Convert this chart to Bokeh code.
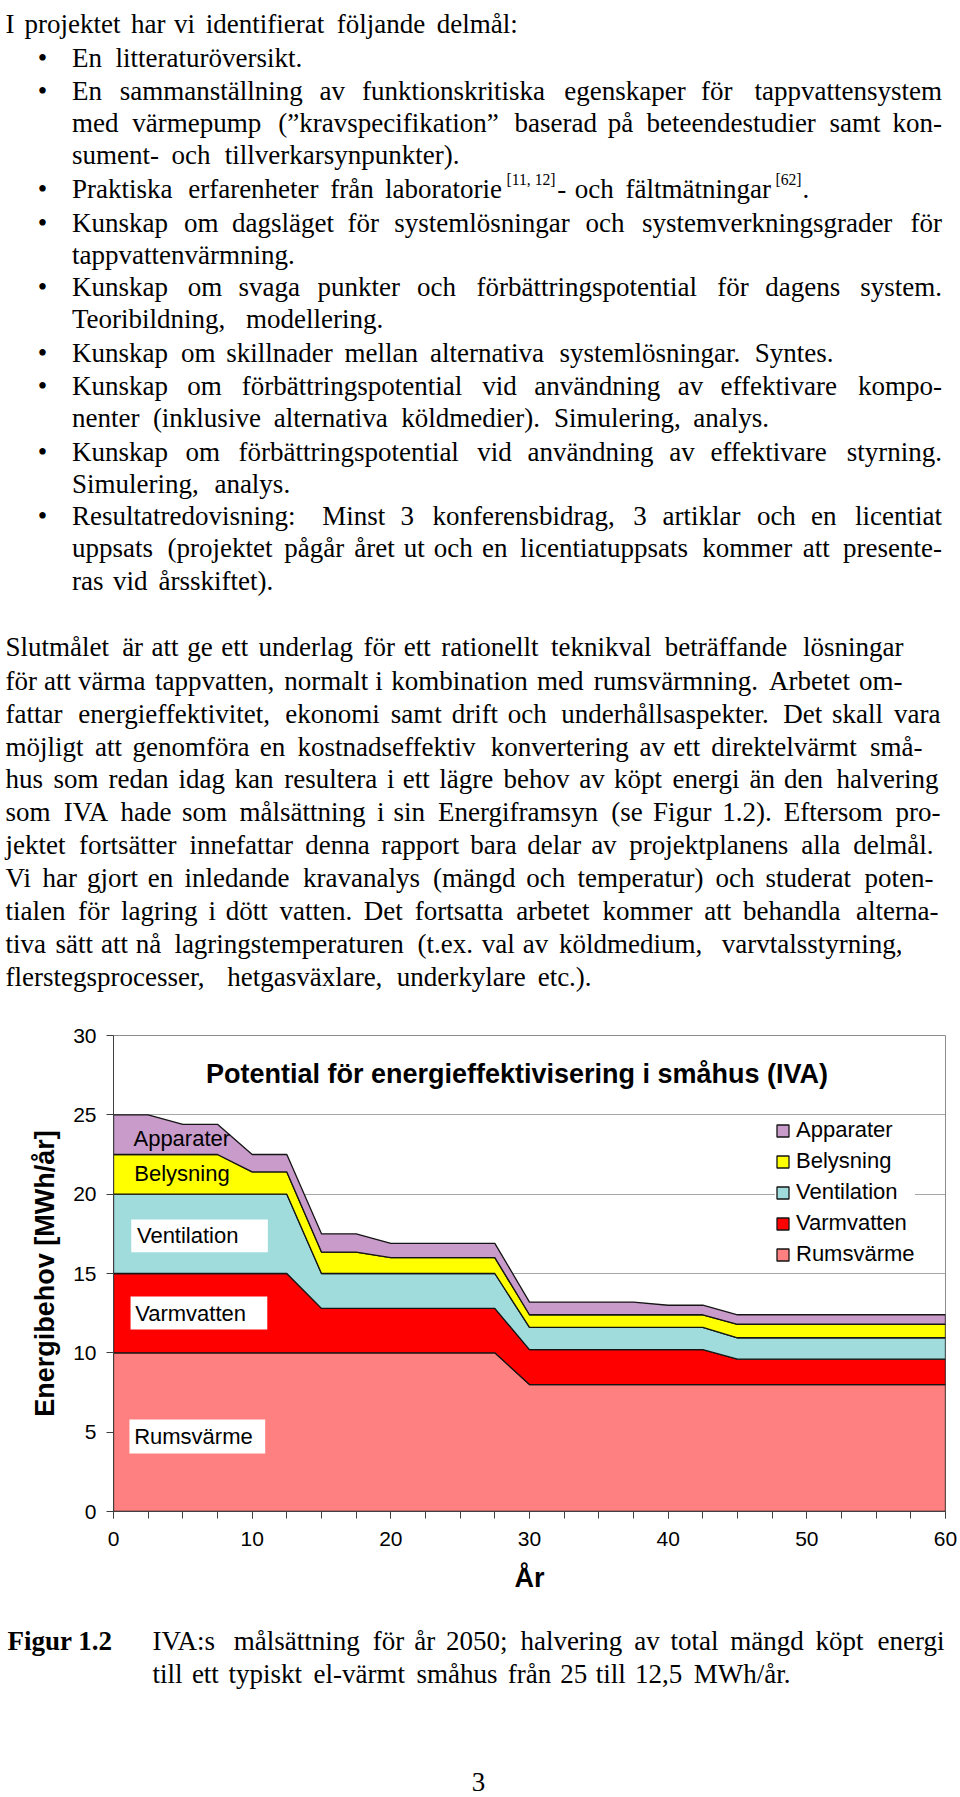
import numpy as np
from bokeh.plotting import figure
from bokeh.models import Range1d, Label, BoxAnnotation, Legend, LegendItem, FixedTicker
from bokeh.layouts import column
from bokeh.embed import file_html
from bokeh.resources import INLINE

# ---------------- chart data ----------------
years = [0, 2.5, 5, 7.5, 10, 12.5, 15, 17.5, 20, 22.5, 25, 27.5, 30, 32.5,
         35, 37.5, 40, 42.5, 45, 47.5, 50, 52.5, 55, 57.5, 60]
rumsvarme = [10, 10, 10, 10, 10, 10, 10, 10, 10, 10, 10, 10,
             8, 8, 8, 8, 8, 8, 8, 8, 8, 8, 8, 8, 8]
varmvatten = [5, 5, 5, 5, 5, 5, 2.8, 2.8, 2.8, 2.8, 2.8, 2.8,
              2.2, 2.2, 2.2, 2.2, 2.2, 2.2, 1.6, 1.6, 1.6, 1.6, 1.6, 1.6, 1.6]
ventilation = [5, 5, 5, 5, 5, 5, 2.2, 2.2, 2.2, 2.2, 2.2, 2.2,
               1.4, 1.4, 1.4, 1.4, 1.4, 1.4, 1.35, 1.35, 1.35, 1.35, 1.35, 1.35, 1.35]
belysning = [2.5, 2.5, 2.5, 2.5, 1.4, 1.4, 1.35, 1.35, 1.0, 1.0, 1.0, 1.0,
             0.8, 0.8, 0.8, 0.8, 0.8, 0.8, 0.85, 0.85, 0.85, 0.85, 0.85, 0.85, 0.85]
apparater = [2.5, 2.5, 1.9, 1.9, 1.1, 1.1, 1.15, 1.15, 0.9, 0.9, 0.9, 0.9,
             0.8, 0.8, 0.8, 0.8, 0.6, 0.6, 0.6, 0.6, 0.6, 0.6, 0.6, 0.6, 0.6]
series_names = ["Rumsvärme", "Varmvatten", "Ventilation", "Belysning", "Apparater"]
series_values = [rumsvarme, varmvatten, ventilation, belysning, apparater]
series_colors = ["#FF8080", "#FF0000", "#A0DCDC", "#FFFF00", "#C89BCB"]
x_ticks = [0, 10, 20, 30, 40, 50, 60]
x_minor_ticks = [0, 2.5, 5, 7.5, 10, 12.5, 15, 17.5, 20, 22.5, 25, 27.5, 30, 32.5,
                 35, 37.5, 40, 42.5, 45, 47.5, 50, 52.5, 55, 57.5, 60]
y_ticks = [0, 5, 10, 15, 20, 25, 30]
chart_title = "Potential för energieffektivisering i småhus (IVA)"
y_label = "Energibehov [MWh/år]"
x_label = "År"

# in-chart labels (text, x, y, white box (left, right, bottom, top) or None), data units
area_labels = [
    ("Apparater", 1.44, 23.53, None),
    ("Belysning", 1.50, 21.30, None),
    ("Ventilation", 1.69, 17.39, (1.28, 11.13, 16.34, 18.40)),
    ("Varmvatten", 1.56, 12.51, (1.23, 11.09, 11.47, 13.55)),
    ("Rumsvärme", 1.49, 4.73, (1.15, 10.94, 3.66, 5.80)),
]

# ---------------- page text ----------------
BODY_LINES = [
    ("p", "I projektet har vi identifierat följande delmål:"),
    ("b", "En litteraturöversikt."),
    ("b", "En sammanställning av funktionskritiska egenskaper för tappvattensystem"),
    ("i", "med värmepump (”kravspecifikation” baserad på beteendestudier samt kon-"),
    ("i", "sument- och tillverkarsynpunkter)."),
    ("b", "Praktiska erfarenheter från laboratorie^[11,\u00a012]^- och fältmätningar^[62]^."),
    ("b", "Kunskap om dagsläget för systemlösningar och systemverkningsgrader för"),
    ("i", "tappvattenvärmning."),
    ("b", "Kunskap om svaga punkter och förbättringspotential för dagens system."),
    ("i", "Teoribildning, modellering."),
    ("b", "Kunskap om skillnader mellan alternativa systemlösningar. Syntes."),
    ("b", "Kunskap om förbättringspotential vid användning av effektivare kompo-"),
    ("i", "nenter (inklusive alternativa köldmedier). Simulering, analys."),
    ("b", "Kunskap om förbättringspotential vid användning av effektivare styrning."),
    ("i", "Simulering, analys."),
    ("b", "Resultatredovisning: Minst 3 konferensbidrag, 3 artiklar och en licentiat"),
    ("i", "uppsats (projektet pågår året ut och en licentiatuppsats kommer att presente-"),
    ("i", "ras vid årsskiftet)."),
    ("p", "Slutmålet är att ge ett underlag för ett rationellt teknikval beträffande lösningar"),
    ("p", "för att värma tappvatten, normalt i kombination med rumsvärmning. Arbetet om-"),
    ("p", "fattar energieffektivitet, ekonomi samt drift och underhållsaspekter. Det skall vara"),
    ("p", "möjligt att genomföra en kostnadseffektiv konvertering av ett direktelvärmt små-"),
    ("p", "hus som redan idag kan resultera i ett lägre behov av köpt energi än den halvering"),
    ("p", "som IVA hade som målsättning i sin Energiframsyn (se Figur 1.2). Eftersom pro-"),
    ("p", "jektet fortsätter innefattar denna rapport bara delar av projektplanens alla delmål."),
    ("p", "Vi har gjort en inledande kravanalys (mängd och temperatur) och studerat poten-"),
    ("p", "tialen för lagring i dött vatten. Det fortsatta arbetet kommer att behandla alterna-"),
    ("p", "tiva sätt att nå lagringstemperaturen (t.ex. val av köldmedium, varvtalsstyrning,"),
    ("p", "flerstegsprocesser, hetgasväxlare, underkylare etc.)."),
]
# layout: baseline (page px) and right end when the line is stretched (None = natural)
BODY_BASELINES = [23, 57, 90, 122, 154, 188, 222, 254, 286, 318, 352, 385, 417, 451,
                  483, 515, 547, 580, 646, 680, 713, 746, 778, 811, 844, 877, 910, 943, 976]
BODY_RIGHT = [None, None, 941.5, 941.5, None, None, 941.5, None, 941.5, None, None,
              941.5, None, 941.5, None, 941.5, 941.5, None,
              903, 902, 940, 922, 938, 940, 933, 933, 938, 902, None]

CAPTION_LABEL = "Figur 1.2"
CAPTION_LINES = ["IVA:s målsättning för år 2050; halvering av total mängd köpt energi",
                 "till ett typiskt el-värmt småhus från 25 till 12,5 MWh/år."]
CAPTION_BASELINES = [1640, 1673]
CAPTION_RIGHT = [944, None]
PAGE_NUMBER = "3"

# ---------------- text layout helpers ----------------
TNR = {}
for ch, w in zip("abcdefghijklmnopqrstuvwxyzåäö",
                 [444, 500, 444, 500, 444, 333, 500, 500, 278, 278, 500, 278, 778, 500, 500,
                  500, 500, 333, 389, 278, 500, 500, 722, 500, 500, 444, 444, 444, 500]):
    TNR[ch] = w
for ch, w in zip("ABCDEFGHIJKLMNOPQRSTUVWXYZÅÄÖ",
                 [722, 667, 667, 722, 611, 556, 722, 722, 333, 389, 722, 611, 889, 722, 722,
                  556, 722, 667, 556, 611, 722, 722, 944, 722, 722, 611, 722, 722, 722]):
    TNR[ch] = w
for ch in "0123456789":
    TNR[ch] = 500
TNR.update({" ": 250, "\u00a0": 250, ".": 250, ",": 250, ":": 278, ";": 278, "-": 333,
            "(": 333, ")": 333, "[": 333, "]": 333, "/": 278, "”": 444, "•": 350})

LS = 28.4          # layout font size (px) matching the reference widths
RS = 27            # rendered font size (px)
SUP = 0.58
RAISE = 9.5
STYLE = {"n": (f"{RS}px", "normal"), "s": (f"{round(RS * SUP, 1)}px", "normal"),
         "b": (f"{RS}px", "bold")}

PAGE_W = 960
FRAME_L, FRAME_R = 113, 945   # chart frame edges (page px)
FRAME_T, FRAME_B = 1035, 1511


def tw(s):
    return sum(TNR.get(c, 500) for c in s) / 1000.0


class Store:
    def __init__(self):
        self.d = {}

    def add(self, x, y, txt, align, kind):
        e = self.d.setdefault((align, kind), {"x": [], "y": [], "t": []})
        e["x"].append(x)
        e["y"].append(y)
        e["t"].append(txt)


def place_line(st, text, left, right, base):
    groups = text.split(" ")
    gp, widths = [], []
    for g in groups:
        pcs = []
        for k, part in enumerate(g.split("^")):
            if part == "":
                continue
            kind = "s" if k % 2 == 1 else "n"
            size = LS * (SUP if kind == "s" else 1.0)
            pcs.append((part, kind, tw(part) * size))
        gp.append(pcs)
        widths.append(sum(p[2] for p in pcs))
    n = len(gp)
    justify = right is not None and n > 1
    gap = (right - left - sum(widths)) / (n - 1) if justify else tw(" ") * LS
    x = left
    for gi, pcs in enumerate(gp):
        for pi, (txt, kind, w) in enumerate(pcs):
            first = gi == 0 and pi == 0
            last = justify and gi == n - 1 and pi == len(pcs) - 1
            if first:
                align, px = "left", max(x, 1.0)
            elif last:
                align, px = "right", x + w
            else:
                align, px = "center", x + w / 2
            py = base - (RAISE if kind == "s" else 0)
            st.add(px, py, txt.replace("\u00a0", " "), align, kind)
            x += w
        x += gap


def text_fig(y_top, y_bottom, st):
    f = figure(width=PAGE_W, height=y_bottom - y_top,
               x_range=Range1d(0, PAGE_W), y_range=Range1d(y_bottom, y_top),
               output_backend="svg", toolbar_location=None, min_border=0,
               x_axis_location=None, y_axis_location=None)
    f.grid.visible = False
    f.outline_line_color = None
    for (align, kind), e in st.d.items():
        size, style = STYLE[kind]
        f.text(x=e["x"], y=e["y"], text=e["t"], text_align=align, text_baseline="alphabetic",
               text_font={"value": "Liberation Serif"}, text_font_size=size,
               text_font_style=style, text_color="black")
    return f


# ---------------- top text ----------------
TOP_Y1 = 1010
st_top = Store()
for (kind, txt), base, rgt in zip(BODY_LINES, BODY_BASELINES, BODY_RIGHT):
    left = 5 if kind == "p" else 71.5
    if kind == "b":
        st_top.add(42, base, "•", "center", "n")
    place_line(st_top, txt, left, rgt, base)
top = text_fig(0, TOP_Y1, st_top)

# ---------------- chart ----------------
CH_Y1 = 1621
p = figure(width=PAGE_W, height=CH_Y1 - TOP_Y1, x_range=Range1d(0, 60), y_range=Range1d(0, 30),
           output_backend="svg", toolbar_location=None,
           min_border_left=FRAME_L, min_border_right=PAGE_W - FRAME_R,
           min_border_top=FRAME_T - TOP_Y1, min_border_bottom=CH_Y1 - FRAME_B)
p.background_fill_color = "white"
p.border_fill_color = "white"
p.outline_line_color = "#8c8c8c"
p.xgrid.visible = False
p.ygrid.ticker = FixedTicker(ticks=y_ticks)
p.ygrid.grid_line_color = "#a6a6a6"
p.ygrid.grid_line_width = 1

xs_arr = np.array(years, dtype=float)
base = np.zeros(len(years))
rends = {}
for name, vals, col in zip(series_names, series_values, series_colors):
    topv = base + np.array(vals, dtype=float)
    px = np.concatenate([xs_arr, xs_arr[::-1]])
    py = np.concatenate([topv, base[::-1]])
    rends[name] = p.patch(px, py, fill_color=col, line_color="#151515", line_width=1.3)
    base = topv

p.xaxis.ticker = FixedTicker(ticks=x_ticks, minor_ticks=x_minor_ticks)
p.yaxis.ticker = FixedTicker(ticks=y_ticks)
for ax in (p.xaxis, p.yaxis):
    ax.axis_line_color = "#404040"
    ax.major_tick_line_color = "#404040"
    ax.minor_tick_line_color = "#404040"
    ax.major_tick_out = 7
    ax.major_tick_in = 0
    ax.minor_tick_out = 7
    ax.minor_tick_in = 0
    ax.major_label_text_font = "Liberation Sans"
    ax.major_label_text_font_size = "21px"
    ax.major_label_text_color = "black"
    ax.axis_label_text_font = "Liberation Sans"
    ax.axis_label_text_font_style = "bold"
    ax.axis_label_text_color = "black"
    ax.axis_label_text_font_size = "27px"
p.xaxis.major_label_standoff = 13
p.yaxis.major_label_standoff = 10
p.xaxis.axis_label = x_label
p.yaxis.axis_label = y_label
p.xaxis.axis_label_standoff = 14
p.yaxis.axis_label_standoff = 10

p.add_layout(Label(x=29.1, y=27.55, text=chart_title, text_align="center",
                   text_baseline="middle", text_font="Liberation Sans",
                   text_font_size="27px", text_font_style="bold", text_color="black"))

for txt, lx, ly, box in area_labels:
    if box is not None:
        p.add_layout(BoxAnnotation(left=box[0], right=box[1], bottom=box[2], top=box[3],
                                   fill_color="white", fill_alpha=1.0, line_color=None))
    p.add_layout(Label(x=lx, y=ly, text=txt, text_align="left", text_baseline="middle",
                       text_font="Liberation Sans", text_font_size="22px", text_color="black"))

legend = Legend(items=[LegendItem(label=n, renderers=[rends[n]]) for n in reversed(series_names)],
                location=(662, 244), orientation="vertical",
                glyph_width=15, glyph_height=15, label_standoff=6, spacing=5, padding=5,
                margin=0, label_height=25, border_line_color=None,
                background_fill_color="white", background_fill_alpha=1.0,
                label_text_font="Liberation Sans", label_text_font_size="22px",
                label_text_color="black")
p.add_layout(legend)

# ---------------- caption ----------------
st_cap = Store()
st_cap.add(7, CAPTION_BASELINES[0], CAPTION_LABEL, "left", "b")
for txt, base_y, rgt in zip(CAPTION_LINES, CAPTION_BASELINES, CAPTION_RIGHT):
    place_line(st_cap, txt, 152, rgt, base_y)
st_cap.add(478, 1781, PAGE_NUMBER, "center", "n")
cap = text_fig(CH_Y1, 1795, st_cap)

# each figure in its own box so the plot frames are not aligned with each other
page = column(column(top), column(p), column(cap), spacing=0)
open("out.html", "w").write(file_html(page, INLINE))
